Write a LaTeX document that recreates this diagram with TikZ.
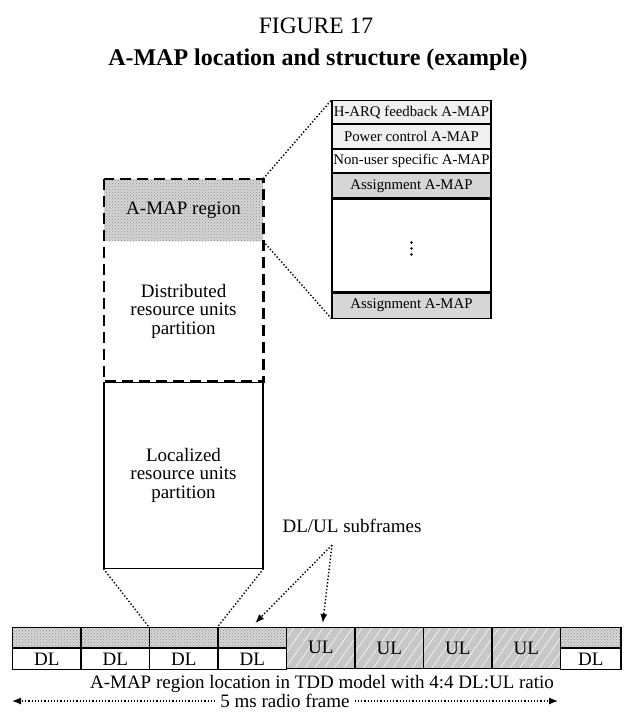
\documentclass[tikz,border=0pt]{standalone}
\usepackage{fontspec}
\setmainfont{Liberation Serif}
\usetikzlibrary{arrows.meta,patterns,patterns.meta}
\tikzset{
    big/.style={font=\fontsize{19}{18.3}\selectfont, align=center, inner sep=0pt},
    small/.style={font=\fontsize{14.8}{15}\selectfont, inner sep=0pt},
    maprow/.style={draw, line width=1.1pt, small, minimum width=159pt, anchor=north},
    dotty/.style={preaction={fill=black!16}, pattern=crosshatch dots, pattern color=black!45},
    hatch/.style={preaction={fill=black!22}, pattern={Lines[angle=55,distance=8pt,line width=0.5pt]}, pattern color=white},
    cell/.style={draw, line width=1.1pt, big, minimum width=68.5pt, anchor=north},
    link/.style={dotted, line width=1.4pt},
}
\begin{document}
\begin{tikzpicture}[x=1pt, y=-1pt, >={Latex[length=9pt,width=7pt]}]
\useasboundingbox (0,0) rectangle (624,713);
\node[font=\fontsize{23.5}{24}\selectfont] (fig) at (316,26) {FIGURE 17};
\node[font={\fontsize{24}{24}\selectfont\bfseries}] (title) at (318,60) {A-MAP location and structure (example)};

% A-MAP structure
\node[maprow, fill=black!6, minimum height=23pt] (harq) at (411.5,100) {H-ARQ feedback A-MAP};
\node[maprow, fill=black!6, minimum height=24pt] (pwr) at (harq.south) {Power control A-MAP};
\node[maprow, fill=white, minimum height=23pt] (nonuser) at (pwr.south) {Non-user specific A-MAP};
\node[maprow, fill=black!16, minimum height=24pt] (asg) at (nonuser.south) {Assignment A-MAP};
\node[maprow, minimum height=93pt] (gap) at (asg.south) {};
\foreach \d in {-9,-3,3}
    \fill ([yshift=\d pt]gap.center) circle (1.4pt);
\node[maprow, fill=black!16, minimum height=25pt] (asglast) at (gap.south) {Assignment A-MAP};

% subframe partitions
\node[big, dotty, minimum width=159pt, minimum height=62pt] (amap) at (183.5,210) {A-MAP region};
\node[big, minimum width=159pt, minimum height=140pt, anchor=north] (distr) at (amap.south) {Distributed\\resource units\\partition};
\node[big, draw, line width=1.1pt, minimum width=159pt, minimum height=186pt, anchor=north] (loc) at (distr.south) {Localized\\resource units\\partition};
\draw[line width=2.6pt, dash pattern=on 11pt off 6pt] (amap.north west) rectangle (distr.south east);

\draw[link] (amap.north east) -- (harq.north west);
\draw[link] (amap.south east) -- (asglast.south west);

% radio frame
\foreach \i in {1,...,4}
{
    \node[cell, dotty, minimum height=20pt] (top\i) at (46.75+68.5*\i-68.5,627) {};
    \node[cell, minimum height=21pt] (dl\i) at (top\i.south) {DL};
}
\foreach \i in {5,...,8}
{
    \node[cell, hatch, minimum height=41pt] (ul\i) at (46.75+68.5*\i-68.5,627) {UL};
}
\node[cell, dotty, minimum width=60.5pt, minimum height=20pt] (top9) at (590.75,627) {};
\node[cell, minimum width=60.5pt, minimum height=21pt] (dl9) at (top9.south) {DL};

\draw[link] (loc.south west) -- (top3.north west);
\draw[link] (loc.south east) -- (top4.north west);

\node[big] (sub) at (352,526) {DL/UL subframes};
\coordinate (fork) at (332,545);
\draw[link,->] (fork) -- ([xshift=3pt,yshift=4pt]top4.north);
\draw[link,->] (fork) -- ([xshift=2pt,yshift=4pt]ul5.north);

\node[big] (cap) at (322,684) {A-MAP region location in TDD model with 4:4 DL:UL ratio};
\coordinate (fl) at (12,701);
\coordinate (fr) at (558,701);
\node[big, inner xsep=5pt] (rf) at (285,701) {5 ms radio frame};
\draw[link,line width=1.2pt,->] (rf) -- (fl);
\draw[link,line width=1.2pt,->] (rf) -- (fr);
\end{tikzpicture}
\end{document}
